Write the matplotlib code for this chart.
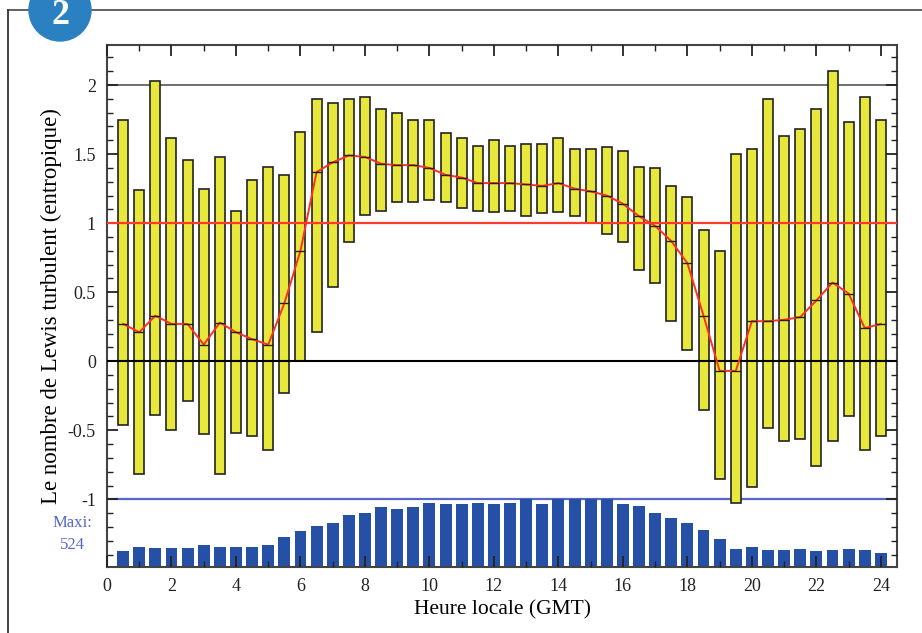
import matplotlib
matplotlib.use("Agg")
import matplotlib.pyplot as plt
import numpy as np
from matplotlib.patches import Ellipse
from matplotlib.lines import Line2D
from matplotlib.ticker import MultipleLocator

# heure locale (GMT), une barre par demi-heure
hours = np.arange(1, 49) * 0.5

lewis_max = [1.75, 1.24, 2.03, 1.62, 1.46, 1.25, 1.48, 1.09, 1.31, 1.41, 1.35, 1.66,
             1.90, 1.87, 1.90, 1.91, 1.83, 1.80, 1.75, 1.75, 1.65, 1.62, 1.56, 1.60,
             1.56, 1.57, 1.57, 1.62, 1.54, 1.54, 1.55, 1.52, 1.41, 1.40, 1.27, 1.19,
             0.95, 0.80, 1.50, 1.54, 1.90, 1.63, 1.68, 1.83, 2.10, 1.73, 1.91, 1.75]
lewis_min = [-0.46, -0.82, -0.39, -0.50, -0.29, -0.53, -0.82, -0.52, -0.54, -0.64, -0.23, 0.0,
             0.21, 0.54, 0.86, 1.06, 1.09, 1.15, 1.15, 1.17, 1.15, 1.11, 1.09, 1.08,
             1.09, 1.05, 1.07, 1.08, 1.05, 1.00, 0.92, 0.86, 0.66, 0.57, 0.29, 0.08,
             -0.35, -0.85, -1.03, -0.91, -0.48, -0.58, -0.56, -0.76, -0.58, -0.40, -0.64, -0.54]
lewis_mean = [0.27, 0.21, 0.33, 0.27, 0.27, 0.12, 0.28, 0.21, 0.16, 0.12, 0.42, 0.80,
              1.37, 1.44, 1.49, 1.48, 1.43, 1.42, 1.42, 1.40, 1.35, 1.33, 1.29, 1.29,
              1.29, 1.28, 1.27, 1.29, 1.25, 1.23, 1.20, 1.14, 1.05, 0.98, 0.87, 0.71,
              0.33, -0.07, -0.07, 0.29, 0.29, 0.30, 0.32, 0.44, 0.57, 0.49, 0.24, 0.27]
# nombre de cas par demi-heure (maxi 524)
counts = [126, 152, 146, 146, 145, 172, 152, 152, 152, 172, 234, 277,
          318, 337, 403, 421, 465, 452, 465, 498, 485, 485, 495, 485,
          495, 524, 490, 524, 524, 524, 524, 490, 472, 418, 378, 342,
          285, 213, 136, 152, 131, 131, 136, 126, 131, 136, 131, 110]
count_max = 524

serif = "Liberation Serif"
plt.rcParams['font.family'] = serif

fig = plt.figure(figsize=(9.22, 6.33), dpi=100)
ax = fig.add_axes([107/922, 66/633, 790/922, 522/633])

y_lo, y_hi = -1.49, 2.29
ax.set_xlim(0, 24.5)
ax.set_ylim(y_lo, y_hi)

# lignes de reference
ax.axhline(2, color="#555555", lw=1.2, zorder=1)
ax.axhline(-1, color="#5566c8", lw=1.6, zorder=1)

# barres min-max
lo = np.array(lewis_min)
hi = np.array(lewis_max)
ax.bar(hours, hi - lo, bottom=lo, width=0.31, color="#e8e83c",
       edgecolor="#222222", linewidth=1.2, zorder=2)

ax.axhline(1, color="#ff3a2a", lw=1.6, zorder=3)
ax.axhline(0, color="black", lw=1.5, zorder=3)

# nombre de cas, ramene entre le bas et -1
scaled = np.array(counts) / count_max * (-1 - y_lo)
ax.bar(hours, scaled, bottom=y_lo, width=0.37, color="#2550a5",
       edgecolor="none", zorder=2)

# moyenne
ax.plot(hours, lewis_mean, color="#ff3020", lw=1.4, zorder=4,
        marker="_", markersize=7, markeredgecolor="#222222", markeredgewidth=1.0)

ax.set_axisbelow(False)
ax.xaxis.set_major_locator(MultipleLocator(2))
ax.xaxis.set_minor_locator(MultipleLocator(1))
ax.yaxis.set_major_locator(MultipleLocator(0.5))
ax.yaxis.set_minor_locator(MultipleLocator(0.1))
ax.tick_params(which="both", direction="in", top=True, right=True, colors="#222222")
ax.tick_params(which="major", length=8, width=1.3, labelsize=13, pad=8)
ax.tick_params(which="minor", length=4, width=1.0)
ax.set_yticks([-1, -0.5, 0, 0.5, 1, 1.5, 2])
ax.set_yticklabels(["-1", "-0.5", "0", "0.5", "1", "1.5", "2"])
for s in ax.spines.values():
    s.set_color("#444444")
    s.set_linewidth(1.5)

ax.set_xlabel("Heure locale (GMT)", fontsize=15.5, labelpad=4)
ax.set_ylabel("Le nombre de Lewis turbulent (entropique)", fontsize=16.5, labelpad=4)

fig.text(72/922, 1 - 534/633, "Maxi:\n524", color="#5566c8", fontsize=12,
         ha="center", va="center", linespacing=1.5)

# cadre et pastille
fig.add_artist(Line2D([8/922, 1], [1 - 10/633, 1 - 10/633], color="#555555", lw=1.3,
                      transform=fig.transFigure))
fig.add_artist(Line2D([8/922, 8/922], [0, 1 - 10/633], color="#333333", lw=1.3,
                      transform=fig.transFigure))
fig.add_artist(Ellipse((60/922, 1 - 10/633), 62/922, 62/633, color="#2a80c0",
                       transform=fig.transFigure, zorder=5))
fig.text(60/922, 1 - 15/633, "2", color="white", fontsize=26, fontweight="bold",
         ha="center", va="center", zorder=6)

fig.savefig("out.png", dpi=100)
